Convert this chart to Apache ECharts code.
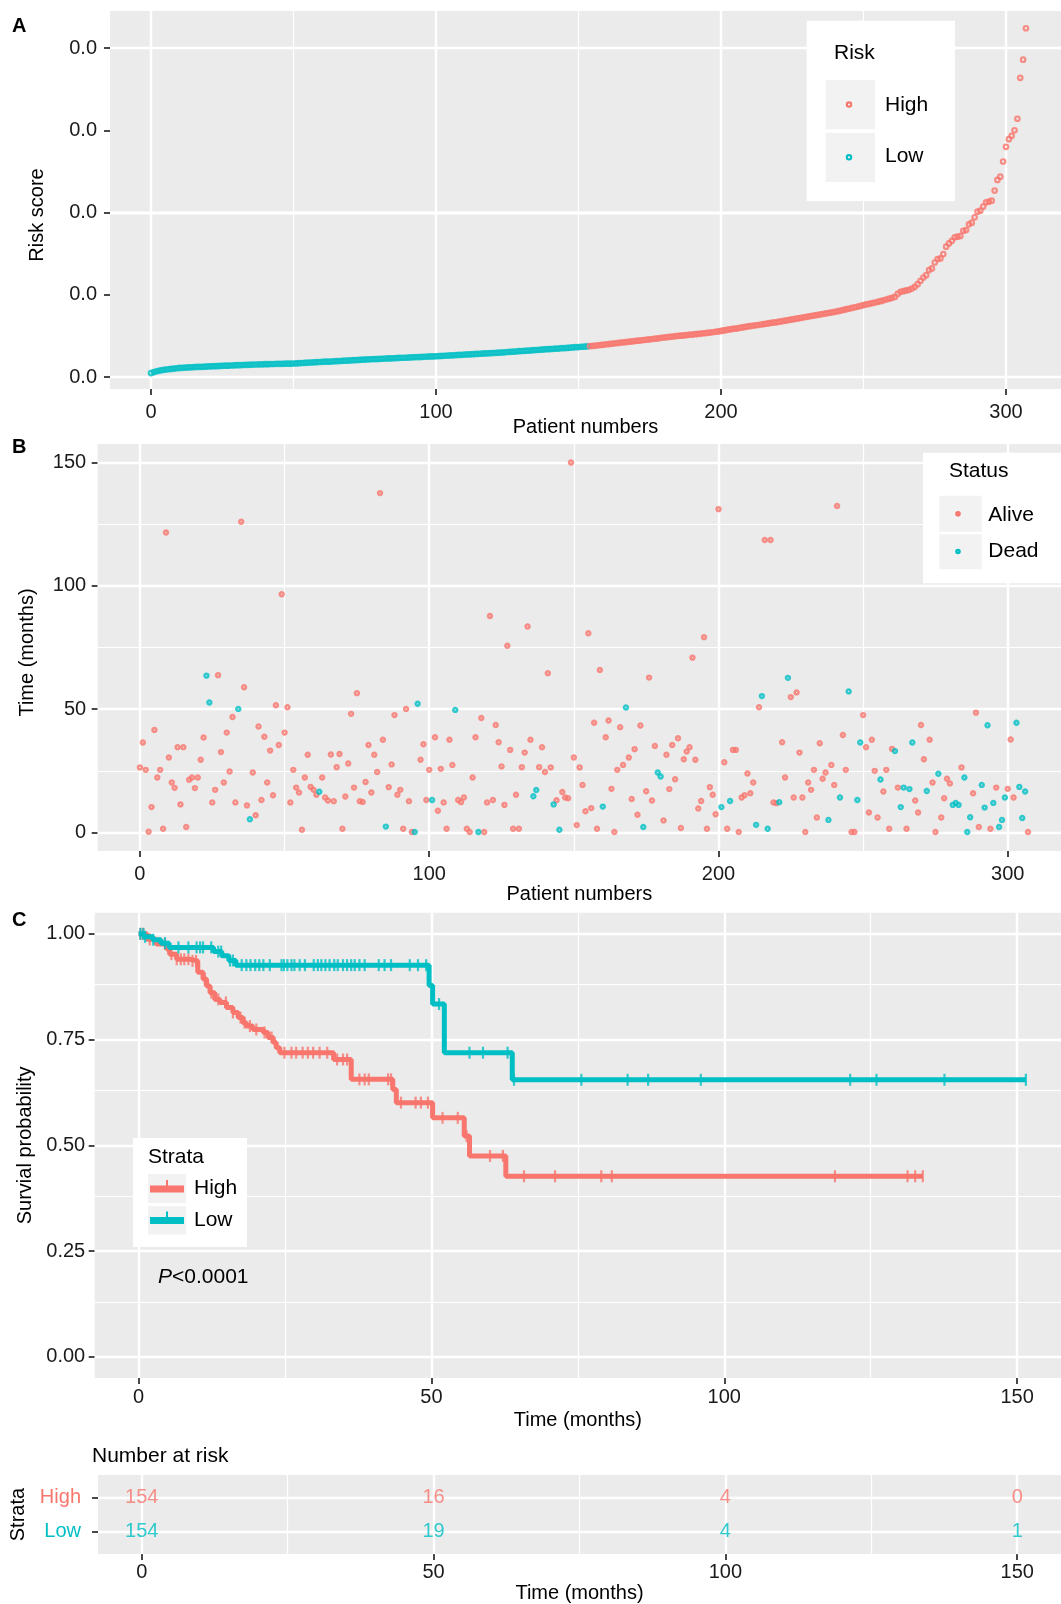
<!DOCTYPE html>
<html><head><meta charset="utf-8">
<script src="https://cdn.jsdelivr.net/npm/echarts@6.0.0/dist/echarts.min.js"></script>
<style>html,body{margin:0;padding:0;background:#fff}#c{width:1061px;height:1604px}</style>
</head><body><div id="c"></div>
<script>
// ---------- DATA ----------
// Panel A: risk score of each patient, sorted ascending (first 154 = Low, rest = High)
const riskScore = [
.00024,.00030,.00035,.00039,.00042,.00045,.00047,.00049,.00051,.00053,
.00055,.00056,.00057,.00058,.00059,.00060,.00061,.00062,.00062,.00063,
.00064,.00065,.00066,.00066,.00067,.00068,.00069,.00069,.00070,.00071,
.00072,.00072,.00073,.00074,.00074,.00075,.00076,.00076,.00077,.00077,
.00078,.00078,.00079,.00079,.00080,.00080,.00080,.00081,.00081,.00081,
.00082,.00083,.00084,.00085,.00086,.00087,.00088,.00089,.00090,.00091,
.00092,.00093,.00093,.00094,.00095,.00096,.00097,.00098,.00099,.00100,
.00101,.00102,.00103,.00104,.00105,.00106,.00107,.00108,.00109,.00109,
.00110,.00111,.00112,.00113,.00113,.00114,.00115,.00116,.00117,.00117,
.00118,.00119,.00120,.00121,.00121,.00122,.00123,.00124,.00125,.00125,
.00126,.00127,.00128,.00129,.00130,.00131,.00132,.00133,.00134,.00135,
.00136,.00137,.00138,.00139,.00140,.00141,.00142,.00143,.00144,.00145,
.00146,.00147,.00148,.00149,.00150,.00152,.00153,.00154,.00155,.00157,
.00158,.00159,.00160,.00161,.00163,.00164,.00165,.00166,.00168,.00169,
.00170,.00171,.00172,.00173,.00175,.00176,.00177,.00178,.00180,.00181,
.00182,.00184,.00185,.00186,
.00188,.00189,.00191,.00193,.00195,.00197,
.00199,.00201,.00203,.00205,.00207,.00209,.00211,.00213,.00215,.00217,
.00219,.00221,.00223,.00225,.00227,.00229,.00231,.00233,.00235,.00238,
.00240,.00242,.00244,.00246,.00248,.00250,.00251,.00253,.00255,.00257,
.00258,.00260,.00262,.00264,.00266,.00268,.00270,.00272,.00275,.00277,
.00280,.00283,.00286,.00289,.00292,.00294,.00297,.00300,.00303,.00306,
.00309,.00311,.00314,.00316,.00319,.00322,.00324,.00327,.00330,.00332,
.00335,.00338,.00341,.00344,.00347,.00350,.00353,.00356,.00359,.00363,
.00366,.00369,.00372,.00375,.00378,.00381,.00384,.00387,.00390,.00393,
.00396,.00400,.00404,.00408,.00412,.00416,.00420,.00424,.00428,.00432,
.00437,.00441,.00445,.00449,.00453,.00457,.00461,.00466,.00471,.00476,
.00481,.00487,.00505,.00518,.00522,.00526,.00530,.00538,.00548,.00564,
.00585,.00605,.00619,.00650,.00660,.00696,.00717,.00721,.00747,.00792,
.00812,.00828,.00849,.00853,.00857,.00889,.00893,.00928,.00938,.00971,
.01005,.01011,.01036,.01062,.01066,.01072,.01133,.01198,.01218,.01310,
.01399,.01446,.01466,.01500,.01570,.01819,.01929,.02120
];
// Panel B: follow-up time (months) of each patient, same order
const survTime = [
26.4,36.5,25.4,0.3,10.3,41.6,22.3,25.4,1.5,121.6,
30.4,20.3,18.1,34.6,11.4,34.6,2.2,21.4,22.3,18.0,
22.3,29.5,38.5,63.6,52.7,12.2,17.3,63.8,32.6,20.3,
40.5,24.7,46.8,12.2,50.1,126.0,58.9,11.0,5.4,24.3,
7.0,43.0,13.2,38.8,20.3,33.2,15.1,51.6,35.5,96.6,
40.5,50.8,12.2,25.4,18.2,16.2,1.1,22.3,31.5,18.5,
17.3,15.3,16.5,22.3,14.2,13.0,31.6,12.7,26.5,31.8,
1.5,14.6,28.0,48.1,18.2,56.5,12.7,12.4,20.5,35.5,
16.2,31.5,24.5,137.6,37.6,2.4,18.4,27.6,47.6,15.3,
17.3,1.5,50.1,12.7,0.2,0.2,52.2,29.5,35.8,13.2,
25.4,13.2,38.6,8.8,25.8,12.2,1.5,37.6,27.4,49.7,
13.2,12.3,14.2,1.5,0.2,22.3,38.6,0.2,46.4,0.2,
12.2,87.8,13.2,43.6,36.6,26.8,11.2,75.7,33.5,1.5,
15.3,1.5,26.5,32.4,83.5,37.6,14.7,17.2,26.5,34.6,
24.5,64.6,26.4,11.4,13.1,1.1,16.4,14.2,13.9,150.0,
30.4,3.0,26.4,19.3,8.6,80.8,9.9,44.5,1.5,65.9,
10.5,38.6,45.4,17.7,0.2,25.4,42.7,27.4,50.7,30.4,
13.6,33.8,7.2,43.4,2.2,16.7,62.8,13.0,35.1,24.3,
22.7,4.9,31.5,17.6,35.5,21.6,38.2,1.8,29.7,32.8,
34.6,70.9,29.5,9.7,12.8,79.2,1.5,18.4,15.3,7.4,
131.1,10.3,28.5,1.5,12.8,33.5,33.5,0.2,14.2,15.1,
23.9,15.9,20.3,3.1,50.8,55.3,118.6,1.5,118.6,12.2,
11.9,12.3,36.6,22.3,62.7,54.9,14.2,56.8,32.4,14.2,
0.2,20.3,17.3,25.4,6.1,36.2,21.8,24.3,5.1,27.4,
19.3,132.4,14.2,39.5,25.4,57.2,0.2,0.2,13.2,36.5,
47.6,34.6,8.1,37.6,25.0,6.1,21.5,16.6,25.4,1.5,
33.9,33.0,18.2,10.3,18.2,1.5,17.6,36.5,13.0,8.1,
43.6,29.7,16.8,37.6,20.3,0.2,23.8,6.1,13.9,21.8,
19.9,11.2,12.0,11.2,26.4,22.3,0.2,6.2,15.9,48.6,
2.2,19.3,10.1,43.5,1.5,12.0,18.2,2.2,5.1,14.2,
17.7,37.7,14.2,44.5,18.5,5.9,16.6,0.2
];
// Panel B: status (0 = Alive, 1 = Dead), same order
const deadStatus = [
0,0,0,0,0,0,0,0,0,0, 0,0,0,0,0,0,0,0,0,0, 0,0,0,1,1,0,0,0,0,0, 0,0,0,0,1,0,0,0,1,0,
0,0,0,0,0,0,0,0,0,0, 0,0,0,0,0,0,0,0,0,0, 0,0,1,0,0,0,0,0,0,0, 0,0,0,0,0,0,0,0,0,0,
0,0,0,0,0,1,0,0,0,0, 0,0,0,0,0,1,1,0,0,0, 0,1,0,0,0,0,0,0,0,1, 0,0,0,0,0,0,0,1,0,0,
0,0,0,0,0,0,0,0,0,0, 0,0,0,0,0,0,1,1,0,0, 0,0,0,1,0,1,0,0,0,0, 0,0,0,0,0,0,0,0,0,0,
1,0,0,0,0,0,0,0,1,0, 0,0,0,0,1,0,0,0,0,1, 1,0,0,0,0,0,0,0,0,0, 0,0,0,0,0,0,0,0,0,0,
0,1,0,0,1,0,0,0,0,0, 0,0,0,1,0,1,0,1,0,0, 0,1,0,0,1,0,0,0,0,0, 0,0,0,0,0,0,0,0,1,0,
0,0,1,0,0,1,0,0,1,1, 0,0,0,0,0,0,1,0,0,0, 0,1,0,1,1,0,1,1,0,0, 0,0,1,0,0,0,1,0,0,0,
0,1,1,1,0,1,1,1,0,0, 0,1,1,1,0,1,0,1,1,1, 0,0,0,1,1,1,1,0
];
// Panel C: Kaplan-Meier step curves (time in months, survival probability)
const kmHighTime = [0,1.4,3.0,4.8,5.3,6.5,8.7,10.1,11.0,11.6,12.2,13.0,13.9,15.0,16.1,17.0,17.8,18.4,19.5,21.3,22.1,23.0,23.5,24.1,33.3,36.3,43.4,44.0,50.2,55.6,56.5,62.7,133.9];
const kmHighSurv = [1,0.987,0.976,0.964,0.952,0.940,0.936,0.909,0.893,0.877,0.861,0.845,0.838,0.826,0.814,0.802,0.790,0.782,0.774,0.767,0.755,0.743,0.731,0.719,0.703,0.656,0.632,0.601,0.565,0.522,0.475,0.427,0.427];
const kmLowTime = [0,0.9,2.4,3.8,5.2,12.8,14.2,15.4,16.6,49.6,50.2,52.2,63.8,151.5];
const kmLowSurv = [1,0.993,0.986,0.978,0.968,0.958,0.948,0.937,0.926,0.878,0.834,0.719,0.655,0.655];
const highCensor = [0.3,0.8,1.9,4.5,5.6,6.5,7.2,7.8,8.5,9.2,9.8,11.3,12.4,13.6,14.9,16.1,17.4,18.1,19.0,20.1,21.5,22.7,24.9,26.1,26.9,28.0,28.9,29.8,30.9,32.2,33.9,34.9,35.6,37.7,38.6,39.3,42.6,43.1,44.8,47.3,48.2,49.4,51.9,54.5,56.0,60.0,62.2,65.8,71.1,79.0,80.8,118.9,131.3,132.6,133.9];
const lowCensor = [0.3,0.8,1.1,2.5,4.5,6.8,8.5,9.9,10.5,11.0,12.4,13.6,14.1,15.6,16.1,17.6,18.4,19.1,19.9,20.6,21.3,22.4,24.4,24.8,25.4,26.1,26.6,27.5,28.4,29.9,30.6,31.2,31.9,32.6,33.4,34.0,34.9,35.6,36.3,36.9,37.7,38.6,41.0,42.0,43.1,46.3,47.7,49.1,51.3,56.5,58.8,63.0,64.1,75.6,83.5,87.0,96.0,121.5,126.0,137.6,151.5];
// Number-at-risk table
const atRiskTimes = [0,50,100,150];
const atRiskHigh = [154,16,4,0];
const atRiskLow = [154,19,4,1];
// Axis ticks
const patientTicks = [0,100,200,300], patientMinor = [50,150,250];
const riskTicks = [0,0.005,0.01,0.015,0.02], riskMinor = [0.0025,0.0075,0.0125,0.0175];
const timeTicks = [0,50,100,150], timeMinor = [25,75,125];
const survTicks = [0,0.25,0.5,0.75,1], survMinor = [0.125,0.375,0.625,0.875];
const strataTicks = [1,2];

// ---------- STYLE ----------
const FONT = '"Liberation Sans", Arial, Helvetica, sans-serif';
const RED = '#F8766D', TEAL = '#00BFC4';

function xAx(g, min, max, ticks, margin, name, gap, noMove) {
  const a = {type:'value', gridIndex:g, min, max,
    axisLine:{show:false,onZero:false}, splitLine:{show:false},
    axisTick:{show:true, customValues:ticks, length:6, lineStyle:{color:'#333',width:1.8}},
    axisLabel:{customValues:ticks, margin, fontSize:20, color:'#1a1a1a', fontFamily:FONT},
    name, nameLocation:'middle', nameGap:gap,
    nameTextStyle:{fontSize:20, color:'#000', fontFamily:FONT, verticalAlign:'middle'}};
  if (noMove) a.nameMoveOverlap = false;
  return a;
}
function yAx(g, min, max, ticks, margin, name, gap, fmt, extra, namePad) {
  const a = {type:'value', gridIndex:g, min, max,
    axisLine:{show:false,onZero:false}, splitLine:{show:false},
    axisTick:{show:true, customValues:ticks, length:6, lineStyle:{color:'#333',width:1.8}},
    axisLabel:{customValues:ticks, margin, fontSize:20, color:'#1a1a1a', fontFamily:FONT, formatter:fmt},
    name, nameLocation:'middle', nameGap:gap, nameRotate:90,
    nameTextStyle:{fontSize:20, color:'#000', fontFamily:FONT, verticalAlign:'middle', padding:namePad || 0}};
  if (extra) Object.assign(a.axisLabel, extra);
  return a;
}
function gridLines(g, anchor, vMaj, vMin, hMaj, hMin) {
  const mk = (arr, key, w) => arr.map(v => ({[key]: v, lineStyle:{width:w}}));
  return {type:'scatter', xAxisIndex:g, yAxisIndex:g, data:[anchor], symbolSize:0, silent:true, z:1,
    markLine:{silent:true, z:1, zlevel:0, symbol:['none','none'], label:{show:false}, animation:false,
      lineStyle:{color:'#ffffff', type:'solid'}, emphasis:{disabled:true},
      data:[...mk(vMin,'xAxis',1.2), ...mk(hMin,'yAxis',1.2), ...mk(vMaj,'xAxis',2.4), ...mk(hMaj,'yAxis',2.4)]}};
}
function survAt(times, survs, t) {
  let s = survs[0];
  for (let i = 0; i < times.length; i++) { if (times[i] <= t) s = survs[i]; }
  return s;
}

const nLow = atRiskLow[0];
const riskLowData = [], riskHighData = [];
riskScore.forEach((v, i) => (i < nLow ? riskLowData : riskHighData).push([i, v]));
const aliveData = [], deadData = [];
survTime.forEach((t, i) => (deadStatus[i] ? deadData : aliveData).push([i, t]));

const ring = (c, w) => ({color:'rgba(0,0,0,0)', borderColor:c, borderWidth:w});

const option = {
  animation:false,
  backgroundColor:'#ffffff',
  grid:[
    {left:110, top:11, width:951, height:378, show:true, backgroundColor:'#EBEBEB', borderWidth:0},
    {left:97.7, top:444, width:963.3, height:407, show:true, backgroundColor:'#EBEBEB', borderWidth:0},
    {left:94.7, top:912.7, width:968, height:465.3, show:true, backgroundColor:'#EBEBEB', borderWidth:0},
    {left:94.7, top:1475, width:968, height:82, show:true, backgroundColor:'#EBEBEB', borderWidth:0}
  ],
  xAxis:[
    xAx(0, -14.39, 319.3, patientTicks, 13, 'Patient numbers', 38, true),
    xAx(1, -14.6, 318.4, patientTicks, 13, 'Patient numbers', 41),
    xAx(2, -7.5, 157.5, timeTicks, 9, 'Time (months)', 42.6),
    xAx(3, -7.5, 157.5, timeTicks, 8, 'Time (months)', 36)
  ],
  yAxis:[
    yAx(0, -0.00073, 0.02225, riskTicks, 13, 'Risk score', 72.5, v => v.toFixed(1), null, [0,30,0,0]),
    yAx(1, -7.5, 157.5, timeTicks, 11.5, 'Time (months)', 70, v => String(v), null, [0,10,0,0]),
    yAx(2, -0.05, 1.05, survTicks, 9.5, 'Survial probability', 69, v => v.toFixed(2)),
    yAx(3, 0.35, 2.65, strataTicks, 17, 'Strata', 80, v => (v === 2 ? '{h|High}' : '{l|Low}'),
      {rich:{h:{color:RED, fontSize:20, fontFamily:FONT}, l:{color:TEAL, fontSize:20, fontFamily:FONT}}})
  ],
  series:[
    gridLines(0, [0, 0.001], patientTicks, patientMinor, riskTicks, riskMinor),
    gridLines(1, [0, 10], patientTicks, patientMinor, timeTicks, timeMinor),
    gridLines(2, [0, 0.5], timeTicks, timeMinor, survTicks, survMinor),
    gridLines(3, [0, 1], timeTicks, timeMinor, strataTicks, []),
    // Panel A
    {name:'Low', type:'scatter', xAxisIndex:0, yAxisIndex:0, data:riskLowData, symbol:'circle', symbolSize:4.5, itemStyle:ring(TEAL, 2.2), z:3},
    {name:'High', type:'scatter', xAxisIndex:0, yAxisIndex:0, data:riskHighData, symbol:'circle', symbolSize:4.5, itemStyle:ring(RED, 2.2), z:3},
    // Panel B
    {name:'Alive', type:'scatter', xAxisIndex:1, yAxisIndex:1, data:aliveData, symbol:'circle', symbolSize:3.8, itemStyle:ring(RED, 2.6), z:3},
    {name:'Dead', type:'scatter', xAxisIndex:1, yAxisIndex:1, data:deadData, symbol:'circle', symbolSize:3.8, itemStyle:ring(TEAL, 2.6), z:3},
    // Panel C
    {name:'High', type:'line', step:'end', xAxisIndex:2, yAxisIndex:2, showSymbol:false, z:3,
      data:kmHighTime.map((t,i)=>[t,kmHighSurv[i]]), lineStyle:{color:RED, width:5}, itemStyle:{color:RED}},
    {name:'High censor', type:'scatter', xAxisIndex:2, yAxisIndex:2, symbol:'rect', symbolSize:[2.2,12], z:4,
      data:highCensor.map(t=>[t, survAt(kmHighTime, kmHighSurv, t)]), itemStyle:{color:RED}},
    {name:'Low', type:'line', step:'end', xAxisIndex:2, yAxisIndex:2, showSymbol:false, z:5,
      data:kmLowTime.map((t,i)=>[t,kmLowSurv[i]]), lineStyle:{color:TEAL, width:5}, itemStyle:{color:TEAL}},
    {name:'Low censor', type:'scatter', xAxisIndex:2, yAxisIndex:2, symbol:'rect', symbolSize:[2.2,12], z:6,
      data:lowCensor.map(t=>[t, survAt(kmLowTime, kmLowSurv, t)]), itemStyle:{color:TEAL}},
    // Risk table
    {name:'At risk High', type:'scatter', xAxisIndex:3, yAxisIndex:3, symbolSize:1, itemStyle:{color:'rgba(0,0,0,0)'}, z:5,
      data:atRiskTimes.map((t,i)=>[t,2,atRiskHigh[i]]),
      label:{show:true, position:'inside', formatter:p=>String(p.value[2]), color:RED, fontSize:20, fontFamily:FONT}},
    {name:'At risk Low', type:'scatter', xAxisIndex:3, yAxisIndex:3, symbolSize:1, itemStyle:{color:'rgba(0,0,0,0)'}, z:5,
      data:atRiskTimes.map((t,i)=>[t,1,atRiskLow[i]]),
      label:{show:true, position:'inside', formatter:p=>String(p.value[2]), color:TEAL, fontSize:20, fontFamily:FONT}}
  ],
  graphic:[]
};

// ---------- Legends / annotations (graphic) ----------
const G = option.graphic;
function txt(x, y, text, size, extra) {
  G.push({type:'text', x, y, z:20, style:Object.assign({text, font:`${size}px ${FONT}`, fill:'#000', textAlign:'left', textVerticalAlign:'middle'}, extra||{})});
}
function rect(x, y, w, h, fill) { G.push({type:'rect', z:18, shape:{x, y, width:w, height:h}, style:{fill}}); }
// Panel labels
txt(12, 26, 'A', 20, {font:`bold 20px ${FONT}`});
txt(12, 447, 'B', 20, {font:`bold 20px ${FONT}`});
txt(12, 920, 'C', 20, {font:`bold 20px ${FONT}`});
// Legend A (Risk)
rect(806.7, 20.7, 148.3, 180.3, '#ffffff');
txt(834, 53.5, 'Risk', 21);
rect(825.7, 80, 49.3, 49.3, '#F2F2F2');
rect(825.7, 132.7, 49.3, 49.3, '#F2F2F2');
G.push({type:'circle', z:21, shape:{cx:849, cy:104.6, r:2.2}, style:{fill:'none', stroke:RED, lineWidth:2.1}});
G.push({type:'circle', z:21, shape:{cx:849, cy:157.3, r:2.2}, style:{fill:'none', stroke:TEAL, lineWidth:2.1}});
txt(885, 105.5, 'High', 21);
txt(885, 156, 'Low', 21);
// Legend B (Status)
rect(923, 452.7, 140, 130.6, '#ffffff');
txt(949, 471, 'Status', 21);
rect(939.3, 495.7, 42.4, 36, '#F2F2F2');
rect(939.3, 534.3, 42.4, 35, '#F2F2F2');
G.push({type:'circle', z:21, shape:{cx:958, cy:513.7, r:1.6}, style:{fill:'none', stroke:RED, lineWidth:2.4}});
G.push({type:'circle', z:21, shape:{cx:958, cy:551.5, r:1.6}, style:{fill:'none', stroke:TEAL, lineWidth:2.4}});
txt(988.3, 515, 'Alive', 21);
txt(988.3, 551.5, 'Dead', 21);
// Legend C (Strata)
rect(133, 1138, 114, 109, '#ffffff');
txt(148, 1157, 'Strata', 21);
rect(148, 1174, 38, 29, '#F2F2F2');
rect(148, 1206, 38, 28.5, '#F2F2F2');
G.push({type:'line', z:21, shape:{x1:150, y1:1189, x2:184, y2:1189}, style:{stroke:RED, lineWidth:7}});
G.push({type:'line', z:21, shape:{x1:167, y1:1180, x2:167, y2:1190}, style:{stroke:RED, lineWidth:2}});
G.push({type:'line', z:21, shape:{x1:150, y1:1220.5, x2:184, y2:1220.5}, style:{stroke:TEAL, lineWidth:7}});
G.push({type:'line', z:21, shape:{x1:167, y1:1211.5, x2:167, y2:1221}, style:{stroke:TEAL, lineWidth:2}});
txt(194, 1188, 'High', 21);
txt(194, 1220, 'Low', 21);
// p-value
G.push({type:'text', x:158, y:1277, z:20, style:{text:'{i|P}{n|<0.0001}', textAlign:'left', textVerticalAlign:'middle',
  rich:{i:{fontStyle:'italic', fontSize:21, fontFamily:FONT, fill:'#000'}, n:{fontSize:21, fontFamily:FONT, fill:'#000'}}}});
// Risk table heading
txt(92, 1456, 'Number at risk', 21);

const chart = echarts.init(document.getElementById('c'), null, {renderer:'canvas', width:1061, height:1604});
chart.setOption(option);
</script>
</body></html>
